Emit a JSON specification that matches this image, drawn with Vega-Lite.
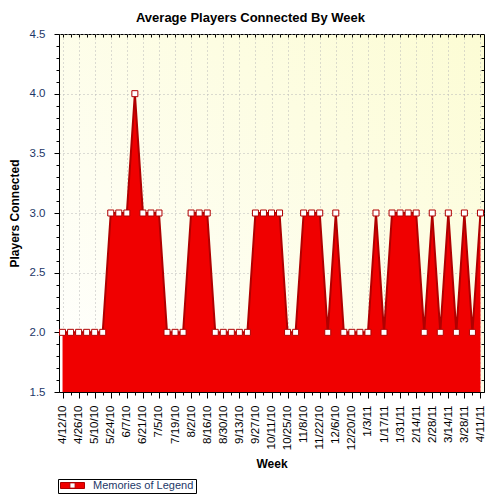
{
  "$schema": "https://vega.github.io/schema/vega-lite/v6.json",
  "width": 425,
  "height": 358,
  "autosize": {"type": "none"},
  "padding": {"left": 59, "top": 34, "right": 16, "bottom": 108},
  "background": "white",
  "title": {
    "text": "Average Players Connected By Week",
    "fontSize": 13,
    "fontWeight": "bold",
    "color": "black",
    "anchor": "middle",
    "dx": -21,
    "offset": 3
  },
  "params": [
    {
      "name": "major",
      "value": ["4/12/10", "4/26/10", "5/10/10", "5/24/10", "6/7/10", "6/21/10", "7/5/10", "7/19/10", "8/2/10", "8/16/10", "8/30/10", "9/13/10", "9/27/10", "10/11/10", "10/25/10", "11/8/10", "11/22/10", "12/6/10", "12/20/10", "1/3/11", "1/17/11", "1/31/11", "2/14/11", "2/28/11", "3/14/11", "3/28/11", "4/11/11"]
    }
  ],
  "data": {
    "values": [
      {"week": "4/12/10", "players": 2},
      {"week": "4/19/10", "players": 2},
      {"week": "4/26/10", "players": 2},
      {"week": "5/3/10", "players": 2},
      {"week": "5/10/10", "players": 2},
      {"week": "5/17/10", "players": 2},
      {"week": "5/24/10", "players": 3},
      {"week": "5/31/10", "players": 3},
      {"week": "6/7/10", "players": 3},
      {"week": "6/14/10", "players": 4},
      {"week": "6/21/10", "players": 3},
      {"week": "6/28/10", "players": 3},
      {"week": "7/5/10", "players": 3},
      {"week": "7/12/10", "players": 2},
      {"week": "7/19/10", "players": 2},
      {"week": "7/26/10", "players": 2},
      {"week": "8/2/10", "players": 3},
      {"week": "8/9/10", "players": 3},
      {"week": "8/16/10", "players": 3},
      {"week": "8/23/10", "players": 2},
      {"week": "8/30/10", "players": 2},
      {"week": "9/6/10", "players": 2},
      {"week": "9/13/10", "players": 2},
      {"week": "9/20/10", "players": 2},
      {"week": "9/27/10", "players": 3},
      {"week": "10/4/10", "players": 3},
      {"week": "10/11/10", "players": 3},
      {"week": "10/18/10", "players": 3},
      {"week": "10/25/10", "players": 2},
      {"week": "11/1/10", "players": 2},
      {"week": "11/8/10", "players": 3},
      {"week": "11/15/10", "players": 3},
      {"week": "11/22/10", "players": 3},
      {"week": "11/29/10", "players": 2},
      {"week": "12/6/10", "players": 3},
      {"week": "12/13/10", "players": 2},
      {"week": "12/20/10", "players": 2},
      {"week": "12/27/10", "players": 2},
      {"week": "1/3/11", "players": 2},
      {"week": "1/10/11", "players": 3},
      {"week": "1/17/11", "players": 2},
      {"week": "1/24/11", "players": 3},
      {"week": "1/31/11", "players": 3},
      {"week": "2/7/11", "players": 3},
      {"week": "2/14/11", "players": 3},
      {"week": "2/21/11", "players": 2},
      {"week": "2/28/11", "players": 3},
      {"week": "3/7/11", "players": 2},
      {"week": "3/14/11", "players": 3},
      {"week": "3/21/11", "players": 2},
      {"week": "3/28/11", "players": 3},
      {"week": "4/4/11", "players": 2},
      {"week": "4/11/11", "players": 3}
    ]
  },
  "layer": [
    {
      "mark": {"type": "area", "opacity": 1, "clip": true},
      "encoding": {
        "x": {
          "field": "week",
          "type": "ordinal",
          "sort": null,
          "scale": {"type": "point", "padding": 0.44},
          "axis": {
            "title": "Week",
            "titleFontSize": 12,
            "titleFontWeight": "bold",
            "titleColor": "black",
            "titleY": 66,
            "titleBaseline": "top",
            "labelAngle": -90,
            "labelFontSize": 11.5,
            "labelColor": "black",
            "labelPadding": 7,
            "labelOverlap": false,
            "labelBound": false,
            "labelExpr": "indexof(major, datum.value) >= 0 ? datum.value : ''",
            "tickColor": "black",
            "tickSize": {"condition": {"test": "indexof(major, datum.value) >= 0", "value": 6}, "value": 3},
            "domainColor": "black",
            "grid": true,
            "gridColor": "#b8b8b8",
            "gridDash": [1, 3],
            "gridOpacity": {"condition": {"test": "indexof(major, datum.value) >= 0", "value": 1}, "value": 0}
          }
        },
        "y": {
          "field": "players",
          "type": "quantitative",
          "scale": {"domain": [1.5, 4.5], "zero": false, "nice": false},
          "axis": {
            "title": "Players Connected",
            "titleFontSize": 12,
            "titleFontWeight": "bold",
            "titleColor": "black",
            "titleX": -38,
            "titleY": 179,
            "values": [1.5, 1.6, 1.7, 1.8, 1.9, 2.0, 2.1, 2.2, 2.3, 2.4, 2.5, 2.6, 2.7, 2.8, 2.9, 3.0, 3.1, 3.2, 3.3, 3.4, 3.5, 3.6, 3.7, 3.8, 3.9, 4.0, 4.1, 4.2, 4.3, 4.4, 4.5],
            "labelExpr": "abs(datum.value * 2 - round(datum.value * 2)) < 0.001 ? format(datum.value, '.1f') : ''",
            "labelFontSize": 11.5,
            "labelColor": "#1d3768",
            "labelPadding": 9,
            "tickColor": "black",
            "tickSize": {"condition": {"test": "abs(datum.value * 2 - round(datum.value * 2)) < 0.001", "value": 5}, "value": 3},
            "domainColor": "black",
            "grid": true,
            "gridColor": "#b8b8b8",
            "gridDash": [1, 3],
            "gridOpacity": {"condition": {"test": "abs(datum.value * 2 - round(datum.value * 2)) < 0.001", "value": 1}, "value": 0}
          }
        },
        "y2": {"datum": 1.5},
        "color": {
          "datum": "Memories of Legend",
          "type": "nominal",
          "scale": {"range": ["#f00000"]},
          "legend": {
            "title": null,
            "orient": "none",
            "legendX": -1,
            "legendY": 445,
            "direction": "horizontal",
            "strokeColor": "black",
            "fillColor": "white",
            "padding": 2,
            "clipHeight": 9,
            "symbolType": "M-1,-0.25H1V0.25H-1Z M-0.22,-0.22V0.22H0.22V-0.22Z",
            "symbolSize": 576,
            "symbolStrokeColor": "#b00000",
            "symbolStrokeWidth": 1,
            "symbolOpacity": 1,
            "labelFontSize": 11,
            "labelColor": "#1d3768",
            "labelOffset": 8
          }
        }
      }
    },
    {
      "mark": {"type": "line", "color": "#b00000", "strokeWidth": 2, "clip": true},
      "encoding": {
        "x": {"field": "week", "type": "ordinal", "sort": null, "axis": null},
        "y": {"field": "players", "type": "quantitative", "axis": null}
      }
    },
    {
      "mark": {"type": "point", "shape": "square", "filled": true, "fill": "white", "stroke": "#b00000", "strokeWidth": 1, "size": 36, "opacity": 1},
      "encoding": {
        "x": {
          "field": "week",
          "type": "ordinal",
          "sort": null,
          "axis": {
            "orient": "top",
            "title": null,
            "labels": false,
            "domain": false,
            "grid": false,
            "tickColor": "black",
            "tickSize": -3
          }
        },
        "y": {
          "field": "players",
          "type": "quantitative",
          "axis": {
            "orient": "right",
            "title": null,
            "labels": false,
            "domain": false,
            "grid": false,
            "values": [1.5, 1.6, 1.7, 1.8, 1.9, 2.0, 2.1, 2.2, 2.3, 2.4, 2.5, 2.6, 2.7, 2.8, 2.9, 3.0, 3.1, 3.2, 3.3, 3.4, 3.5, 3.6, 3.7, 3.8, 3.9, 4.0, 4.1, 4.2, 4.3, 4.4, 4.5],
            "tickColor": "black",
            "tickSize": -3
          }
        }
      }
    }
  ],
  "resolve": {"axis": {"x": "independent", "y": "independent"}},
  "view": {
    "stroke": "black",
    "strokeWidth": 1,
    "fill": {
      "gradient": "linear",
      "x1": 0, "y1": 1, "x2": 1, "y2": 0,
      "stops": [
        {"offset": 0, "color": "#ffffff"},
        {"offset": 1, "color": "#fcfcd4"}
      ]
    }
  },
  "config": {
    "font": "Liberation Sans"
  }
}
